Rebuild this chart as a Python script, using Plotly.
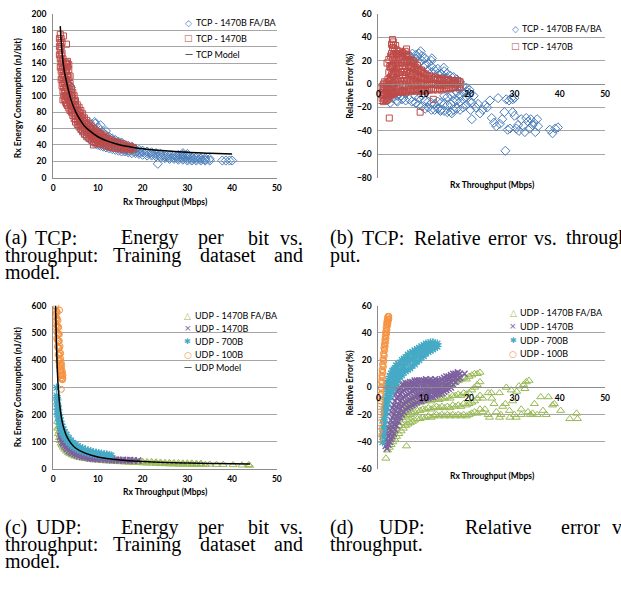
import plotly.graph_objects as go

W, H = 621, 590

# ---------------- data ----------------
# Column format: (x, [y values read at that x])
tcp_model_x = [1.6, 2.0, 2.5, 3.0, 3.5, 4.0, 5.0, 6.0, 7.0, 8.0, 10.0, 12.0, 15.0, 18.0, 20.0, 25.0, 30.0, 35.0, 40.0]
tcp_model_y = [185, 152, 130, 117, 105, 95, 81, 71, 63, 58, 50, 45, 40, 37, 35.5, 33, 31, 30, 29]

tcp_fa_energy = [(3.0,[105,118]),(3.4,[100,115]),(3.8,[95,112]),(4.0,[90,100,110]),(4.6,[78,86,95]),(5.2,[70,78,86]),
    (5.8,[64,72,80]),(6.4,[58,66,74]),(7.0,[54,61,68]),(7.6,[50,57,64]),(8.2,[47,53,60,67]),(8.8,[44,50,56,62]),
    (9.3,[68]),(9.4,[42,47,52,58,66]),(10.0,[40,45,50,55,62]),(10.6,[39,43,48,53,58,64]),(11.2,[38,42,46,50,55]),
    (11.8,[37,40,44,48,52,57]),(12.5,[36,39,43,47,50]),(13.2,[35,38,41,45,48]),(13.9,[34,37,40,43,46]),
    (14.6,[33,36,39,42,44]),(15.3,[32,35,38,41,43]),(16.0,[32,34,37,40]),(16.8,[31,33,36,39]),(17.6,[30,33,35,38]),
    (18.4,[30,32,35]),(19.2,[29,31,34]),(20.0,[28,31,33]),(21.0,[27,30,32]),(22.0,[27,29,31]),(23.0,[26,28,30]),
    (23.4,[17]),(24.0,[25,27,29]),(25.0,[24,26,28]),(26.0,[23,25,27]),(27.0,[23,25,27]),(28.0,[22,24,26,28]),
    (29.0,[22,24,26,28,30]),(30.0,[21,23,25,27,29]),(31.0,[21,23,25]),(32.0,[21,23,25]),(33.0,[21,23,24]),
    (34.0,[21,22,24]),(35.0,[21,23]),(37.8,[21]),(38.6,[21]),(39.4,[21]),(40.0,[21])]

tcp_b_energy = [(1.4,[150,160,170]),(1.6,[135,145,155,165,175]),(1.8,[120,130,140,150,160,170]),
    (2.0,[112,122,132,142,152,165]),(2.2,[95,105,115,125,135,145]),(2.3,[173]),(2.4,[100,110,120,130,140]),
    (2.6,[95,105,115,125,135]),(2.8,[92,100,110,120,130,140]),(3.0,[90,100,110,120,130,140,163]),
    (3.2,[88,97,106,115,125,135,142]),(3.5,[85,94,103,112,122,132,138]),(3.8,[82,90,98,106,115,124]),
    (4.1,[80,87,94,101,108]),(4.4,[76,83,90,97,104]),(4.7,[72,79,86,93,100]),(5.0,[68,75,82,88,94]),
    (5.4,[65,71,77,83,89]),(5.8,[62,68,74,80,86]),(6.2,[59,64,70,76,82]),(6.6,[56,61,66,72,78]),
    (7.0,[53,58,63,68,73]),(7.5,[50,55,60,65,70]),(8.0,[48,52,57,62,66]),(8.5,[46,50,54,59,63]),
    (9.0,[40,44,48,52,56,60]),(9.5,[43,47,51,55,58]),(10.0,[42,45,49,53,56]),(10.6,[41,44,47,51,54]),
    (11.2,[40,43,46,49,52]),(11.8,[39,42,45,48,50]),(12.4,[38,41,44,47]),(13.0,[37,40,43,46]),(13.7,[36,39,42,44]),
    (14.4,[36,38,41,43]),(15.1,[35,37,40,42]),(15.8,[35,37,39,41]),(16.5,[35,37,39]),(17.2,[34,36,38]),(17.9,[35,37])]

tcp_fa_err = [(2.0,[-14]),(2.3,[-10]),(2.6,[-16]),(2.8,[-6]),(3.2,[-12]),(3.5,[-8]),(4.0,[-14]),(4.2,[-10,-15]),
    (4.5,[-4]),(5.0,[-10]),(5.2,[-13,-6]),(5.5,[-12]),(6.0,[-14,-8,20]),(6.8,[-13,24]),(7.0,[24]),(7.4,[-15,18,22]),
    (7.5,[26]),(8.2,[-16,-10,22]),(8.3,[25]),(8.9,[-18,-12,18,26]),(9.3,[28]),(9.6,[-19,-10,20,24]),
    (10.3,[-21,-14,16,22]),(11.0,[-20,-15,12,18]),(11.7,[-22,-16,10,15,20]),(11.8,[22]),(12.4,[-22,-17,6,12]),
    (13.1,[-21,-15,5,9,13]),(13.7,[-23]),(13.8,[-22,-16,4,9]),(14.4,[14]),(14.5,[-23,-17,-10,6,11]),
    (15.2,[-24,-18,-11,5,9]),(15.9,[-24,-17,-9,3,7]),(16.2,[-25]),(16.6,[-22,-15,-8,2,6]),(17.3,[-21,-14,-7,0,4]),
    (18.0,[-22,-15,-10,-4,2]),(18.7,[-20,-13,-7,-2]),(19.4,[-18,-11,-6,-3]),(20.1,[-15,-8,-5]),(20.3,[-22]),
    (20.6,[-30,-16]),(21.0,[-10]),(21.5,[-20]),(22.0,[-17]),(22.4,[-25]),(23.0,[-22]),(23.5,[-18]),(24.0,[-20]),
    (24.6,[-14]),(25.0,[-29]),(25.5,[-33]),(26.0,[-36]),(26.4,[-12]),(26.8,[-34]),(27.3,[-30]),(27.8,[-24]),
    (28.0,[-57]),(28.2,[-13]),(28.5,[-39]),(28.8,[-14]),(29.0,[-38]),(29.3,[-12]),(29.6,[-13,-24]),(30.0,[-12,-27]),
    (30.4,[-38]),(30.8,[-35]),(31.0,[-40]),(31.5,[-30]),(32.0,[-36]),(32.3,[-41]),(32.6,[-29]),(33.0,[-32]),
    (33.3,[-38]),(33.6,[-30]),(34.0,[-35]),(34.3,[-33]),(34.6,[-41]),(35.0,[-30]),(35.2,[-36]),(37.8,[-39]),
    (38.4,[-42]),(39.0,[-38]),(39.6,[-37])]

tcp_b_err = [(0.5,[-14,-9,-4]),(0.8,[-12,-7,-2]),(1.1,[-15,-10,-5,0]),(1.4,[-13,-8,-3,2]),(1.7,[-14,-9,-4,1]),
    (1.9,[-12,-6,0,18]),(2.1,[-13,-8,-2,4]),(2.3,[-11,-5,2,10,21]),(2.4,[-29]),(2.5,[-10,-4,3,15]),
    (2.7,[-9,-2,6,14,24]),(2.9,[-8,0,8,16,26,34]),(3.1,[-9,-1,7,15,23,31,38]),(3.3,[-7,1,9,17,25,33,36]),
    (3.5,[-8,0,8,16,24,30]),(3.8,[-6,2,10,18,26,33]),(4.1,[-7,1,9,17,25,29]),(4.4,[-6,2,10,18,26]),
    (4.7,[-7,0,8,16,24,28]),(5.0,[-6,2,10,18,25]),(5.3,[-7,0,8,16,24,27]),(5.6,[-6,2,10,18,26]),
    (5.9,[-7,0,8,16,24,28]),(6.2,[-6,2,10,18,25,30]),(6.5,[-5,3,11,19,24]),(6.8,[-6,1,9,16,21]),
    (7.1,[-5,2,9,15,20]),(7.4,[-6,1,8,14,19]),(7.7,[-5,2,9,15,20]),(8.0,[-6,0,7,13,18]),(8.3,[-5,2,8,14]),
    (8.6,[-6,0,6,12,16]),(8.9,[-5,1,7,13]),(9.2,[-24,-6,0,6,11]),(9.5,[-5,1,6,12]),(9.8,[-6,0,5,10]),
    (10.1,[-5,0,5,9]),(10.5,[-6,-1,4,8]),(10.9,[-5,0,4,7]),(11.3,[-5,0,4,7]),(11.7,[-4,0,4,6]),
    (12.1,[-13,-5,0,4]),(12.5,[-4,0,4,6]),(13.0,[-5,-1,3,5]),(13.5,[-4,0,4]),(14.0,[-5,-1,3,5]),(14.5,[-4,0,4]),
    (15.0,[-4,-1,3]),(15.5,[-3,1,4]),(16.0,[-4,0,3]),(16.5,[-3,1,3]),(17.0,[-3,0,2]),(17.5,[-2,1,3]),(18.0,[-3,0,2])]

udp_model_x = [0.55, 0.7, 0.9, 1.1, 1.4, 1.8, 2.2, 3.0, 4.0, 5.0, 7.0, 10.0, 15.0, 20.0, 25.0, 30.0, 35.0, 40.0, 44.0]
udp_model_y = [600, 485, 380, 312, 248, 195, 162, 122, 95, 78, 60, 45, 34, 28.5, 25, 23, 21.5, 20.3, 19.5]

udp_fa_energy = [(1.0,[150,175]),(1.2,[130,155]),(1.4,[115,140]),(1.6,[105,125]),(1.8,[95,115]),(2.0,[88,105]),
    (2.3,[80,96]),(2.6,[73,88]),(3.0,[66,80]),(3.4,[60,73]),(3.8,[56,68]),(4.3,[52,63]),(4.8,[48,58]),(5.4,[45,54]),
    (6.0,[42,51]),(6.7,[40,48]),(7.4,[38,45]),(8.2,[36,43]),(9.0,[34,41]),(10.0,[33,39]),(11.0,[31,37]),
    (12.0,[30,36]),(13.0,[29,34]),(14.0,[28,33]),(15.0,[27,32]),(16.0,[26,31]),(17.0,[25,30]),(18.0,[24,29]),
    (19.0,[24,28]),(20.0,[23,28]),(21.0,[22,27]),(22.0,[22,27]),(23.0,[21,26]),(24.0,[20,25]),(25.0,[20,24]),
    (26.0,[19,24]),(27.0,[19,23]),(28.0,[18,23]),(29.0,[18,22]),(30.0,[18,22]),(31.0,[17,22]),(32.0,[17,21]),
    (33.0,[18,21]),(34.0,[17]),(35.0,[18]),(36.5,[17]),(38.0,[17]),(40.2,[16]),(42.2,[15]),(43.7,[16]),(43.9,[14])]

udp_1470_energy = [(1.6,[120,140]),(1.8,[110,132]),(2.0,[100,122]),(2.2,[94,114]),(2.5,[86,106]),(2.8,[80,98]),
    (3.1,[74,92]),(3.5,[68,86]),(3.9,[63,80]),(4.3,[59,74]),(4.8,[55,68]),(5.3,[52,63]),(5.8,[49,59]),(6.4,[46,55]),
    (7.0,[44,52]),(7.6,[42,49]),(8.2,[40,47]),(8.8,[39,45]),(9.4,[38,43]),(10.0,[37,42]),(10.8,[36,41]),
    (11.6,[35,39]),(12.4,[34,38]),(13.2,[33,37]),(14.0,[33,36]),(14.8,[32,35]),(15.6,[32,35]),(16.4,[32,34]),
    (17.2,[32,34]),(18.0,[31,33]),(19.0,[31,32])]

udp_700_energy = [(0.75,[270,299]),(0.85,[240,262]),(0.95,[220,254]),(1.05,[205,232]),(1.15,[192,218]),
    (1.3,[178,200]),(1.45,[165,188]),(1.6,[155,176]),(1.8,[145,165]),(2.0,[135,155]),(2.3,[125,145]),
    (2.6,[118,136]),(3.0,[108,126]),(3.5,[98,114]),(4.0,[90,105]),(4.5,[83,97]),(5.0,[78,91]),(5.5,[73,85]),
    (6.0,[70,80]),(6.6,[66,76]),(7.2,[63,72]),(7.8,[60,69]),(8.4,[58,66]),(9.0,[56,63]),(9.6,[54,61]),
    (10.2,[52,59]),(10.8,[51,57]),(11.4,[50,55]),(12.0,[49,54]),(12.6,[48,52]),(13.0,[50])]

udp_100_energy = [(0.5,[560,580,600]),(0.65,[520,545,570,595]),(0.8,[480,505,530,555,580]),
    (0.95,[450,475,500,525,550,575]),(1.1,[420,445,470,495,520,545]),(1.25,[395,420,445,470,495,520]),
    (1.4,[375,398,420,445,470,495]),(1.45,[583]),(1.55,[360,380,400,425,450]),(1.7,[345,365,385,405,425]),
    (1.83,[293,335,352,370,390]),(1.95,[330,345,362,380]),(2.1,[328,342,358]),(2.2,[332,345])]

udp_fa_err = [(1.66,[-52]),(2.0,[-46,-40]),(2.4,[-44,-38,-33]),(2.8,[-42,-36,-30]),(3.2,[-40,-34,-28]),
    (3.6,[-38,-32,-26]),(4.0,[-36,-30,-24,-19]),(4.5,[-34,-28,-22,-17]),(5.0,[-32,-26,-20,-15]),
    (5.5,[-30,-24,-18,-13]),(6.0,[-28,-22,-17,-12,3]),(6.2,[-43]),(6.5,[-27,-21,-15,-10]),(7.0,[-26,-20,-14,-9]),
    (7.5,[-25,-19,-13,-8]),(8.0,[-24,-18,-12,-7]),(8.6,[-23,-17,-11,-6]),(9.2,[-23,-17,-11,-5]),
    (9.8,[-22,-16,-10,-4]),(10.4,[-22,-16,-10,-3]),(11.0,[-21,-15,-9,-2,5]),(11.6,[-22,-16,-10,-3]),
    (12.2,[-21,-15,-9,-2]),(12.8,[-20,-14,-8,-1]),(13.4,[-21,-15,-9,-2]),(14.0,[-20,-14,-8,0]),
    (14.6,[-21,-15,-8,1]),(15.2,[-20,-14,-7,2]),(15.8,[-21,-15,-8,2]),(16.4,[-20,-13,-6,3]),(17.0,[-21,-14,-6,4]),
    (17.6,[-20,-13,-5,5]),(18.2,[-21,-14,-6,6]),(18.8,[-20,-12,-4,7]),(19.4,[-21,-13,-5,6]),(20.0,[-20,-12,-4,8]),
    (20.6,[-19,-11,-2,9]),(21.2,[-18,-10,0,10]),(21.8,[-19,-8,2,10]),(22.4,[-16,-6,4,11]),(23.0,[-18,-8]),
    (23.5,[-16]),(24.2,[-20,-4]),(24.5,[-22]),(24.9,[-4]),(25.0,[-8]),(25.5,[-12]),(26.0,[-18]),(26.7,[-22,-4]),
    (27.0,[-20]),(27.4,[-14]),(28.0,[-12]),(28.2,[0]),(28.9,[-17]),(29.0,[-22]),(29.3,[-2]),(29.6,[-10]),
    (30.0,[-20]),(30.4,[-22]),(30.5,[-3]),(31.0,[1]),(31.5,[-20,-16]),(32.0,[2]),(32.3,[-1]),(32.6,[4]),
    (33.0,[-18]),(33.2,[5]),(33.5,[-20]),(34.0,[-19]),(34.4,[-12]),(35.0,[-20]),(35.8,[-7]),(36.3,[-17]),
    (37.0,[-20]),(37.5,[-7]),(38.4,[-13]),(38.8,[-12]),(40.2,[-17]),(42.2,[-23]),(43.7,[-19]),(43.9,[-23])]

udp_1470_err = [(1.6,[-43,-38]),(1.9,[-45,-40,-34]),(2.2,[-42,-36,-30]),(2.5,[-40,-34,-27]),(2.8,[-38,-31,-24,-18]),
    (3.1,[-36,-29,-22,-15]),(3.4,[-34,-27,-20,-13]),(3.7,[-31,-24,-17,-10,-5]),(4.0,[-28,-21,-14,-8,-3]),
    (4.4,[-25,-19,-13,-7,-2]),(4.8,[-22,-16,-10,-5,0]),(5.2,[-20,-14,-8,-3,2]),(5.6,[-18,-12,-7,-2,2]),
    (6.0,[-16,-11,-6,-1,3]),(6.5,[-15,-10,-5,0,3]),(7.0,[-14,-9,-4,0,4]),(7.5,[-13,-8,-3,1,4]),
    (8.0,[-12,-7,-2,2,5]),(8.5,[-11,-6,-2,2,5]),(9.0,[-10,-6,-1,3,5]),(9.5,[-10,-5,-1,3,5]),(10.0,[-9,-5,0,3,5]),
    (10.5,[-8,-4,0,4,6]),(11.0,[-8,-4,0,4,5]),(11.5,[-7,-3,1,4,6]),(12.0,[-7,-3,1,4]),(12.5,[-6,-2,1,4,6]),
    (13.0,[-5,-2,2,5]),(13.5,[-5,-1,2,5]),(14.0,[-4,0,3,6]),(14.5,[-3,1,4,7]),(15.0,[-2,2,5,8]),(15.5,[-1,3,6,8]),
    (16.0,[0,4,7,9]),(16.5,[2,5,8,10]),(17.0,[4,7,10]),(17.5,[6,9,11]),(18.0,[7,10]),(19.0,[10])]

udp_700_err = [(0.9,[-40,-36]),(1.0,[-35,-30]),(1.1,[-32,-26]),(1.2,[-28,-22]),(1.3,[-25,-18]),(1.4,[-22,-15]),
    (1.5,[-19,-12]),(1.6,[-17,-9]),(1.8,[-14,-6,0]),(2.0,[-11,-3,3]),(2.2,[-9,-1,5]),(2.5,[-7,1,8]),(2.8,[-4,3,10]),
    (3.1,[-2,5,12]),(3.4,[0,7,13]),(3.7,[2,9,14]),(3.9,[16]),(4.0,[4,10,16]),(4.4,[6,12,17]),(4.8,[8,13,18]),
    (5.2,[9,14,20]),(5.6,[11,16,21]),(6.0,[12,17,22]),(6.5,[13,19,24]),(7.0,[14,20,25]),(7.5,[16,21,26]),
    (8.0,[17,23,27]),(8.5,[19,24,28]),(9.0,[20,25,29]),(9.5,[22,27,30]),(10.0,[23,28,31]),(10.5,[25,29,32]),
    (11.0,[26,30,32]),(11.5,[27,31,33]),(12.0,[28,31,33]),(12.5,[29,32]),(13.0,[30,32])]

udp_100_err = [(0.1,[-38,-33]),(0.2,[-32,-26]),(0.3,[-26,-20,-14]),(0.4,[-18,-12,-6]),(0.5,[-10,-5,0]),
    (0.6,[-5,0,5]),(0.7,[-1,4,9]),(0.8,[3,8,13]),(0.9,[7,12,17]),(1.0,[11,16,21]),(1.1,[15,20,25]),(1.2,[19,24,29]),
    (1.3,[23,28,32]),(1.4,[27,31,35]),(1.5,[30,34,38]),(1.6,[33,37,41]),(1.7,[36,40,44]),(1.8,[39,43,47]),
    (1.9,[42,46,49]),(2.0,[45,48,51]),(2.1,[47,50,52]),(2.2,[49,52]),(2.3,[50,52])]

# ---------------- styles ----------------
BLUE, RED, GREEN, PURPLE, TEAL, ORANGE = '#4a7ebb', '#be4b48', '#98b954', '#7d60a0', '#46aac5', '#f69240'
GRID, AXLINE = '#a6a6a6', '#8c8c8c'
SANS = 'Lato'
SERIF = 'Liberation Serif'


def expand(cols):
    xs, ys = [], []
    for x, yl in cols:
        for y in yl:
            xs.append(x)
            ys.append(y)
    return xs, ys


def px(x):
    return x / W


def py(y):
    return 1 - y / H


fig = go.Figure()


def scatter(cols, name, symbol, color, size, xa, ya, lw=1):
    xs, ys = expand(cols)
    fig.add_trace(go.Scatter(x=xs, y=ys, mode='markers', name=name, xaxis=xa, yaxis=ya, showlegend=False,
                             marker=dict(symbol=symbol, size=size, color=color, line=dict(color=color, width=lw))))


def model(mx, my, name, xa, ya):
    fig.add_trace(go.Scatter(x=mx, y=my, mode='lines', name=name, xaxis=xa, yaxis=ya, showlegend=False,
                             line=dict(color='black', width=1.5, shape='spline')))


# (a)
scatter(tcp_fa_energy, 'TCP - 1470B FA/BA', 'diamond-open', BLUE, 7, 'x', 'y')
scatter(tcp_b_energy, 'TCP - 1470B', 'square-open', RED, 6, 'x', 'y')
model(tcp_model_x, tcp_model_y, 'TCP Model', 'x', 'y')
# (b)
scatter(tcp_fa_err, 'TCP - 1470B FA/BA', 'diamond-open', BLUE, 7, 'x2', 'y2')
scatter(tcp_b_err, 'TCP - 1470B', 'square-open', RED, 6, 'x2', 'y2')
# (c)
scatter(udp_fa_energy, 'UDP - 1470B FA/BA', 'triangle-up-open', GREEN, 7, 'x3', 'y3')
scatter(udp_1470_energy, 'UDP - 1470B', 'x-thin-open', PURPLE, 6, 'x3', 'y3', 1.5)
scatter(udp_700_energy, 'UDP - 700B', 'asterisk-open', TEAL, 7, 'x3', 'y3', 1.3)
scatter(udp_100_energy, 'UDP - 100B', 'circle-open', ORANGE, 6, 'x3', 'y3')
model(udp_model_x, udp_model_y, 'UDP Model', 'x3', 'y3')
# (d)
scatter(udp_fa_err, 'UDP - 1470B FA/BA', 'triangle-up-open', GREEN, 7, 'x4', 'y4')
scatter(udp_1470_err, 'UDP - 1470B', 'x-thin-open', PURPLE, 6, 'x4', 'y4', 1.5)
scatter(udp_700_err, 'UDP - 700B', 'asterisk-open', TEAL, 7, 'x4', 'y4', 1.3)
scatter(udp_100_err, 'UDP - 100B', 'circle-open', ORANGE, 6, 'x4', 'y4')

tickfont = dict(family=SANS, size=8.5, color='black', weight='bold')

LEFT_DOM = [px(51.7), px(278)]
RIGHT_DOM = [px(380.7), px(610)]
TOP_DOM = [py(175.7), py(9)]
BOT_DOM = [py(472.3), py(305.7)]


def xaxis_cfg(domain, anchor, position=None):
    d = dict(domain=domain, range=[0, 50], dtick=10, tick0=0, showgrid=False, zeroline=False,
             showline=True, linecolor=AXLINE, linewidth=1, ticks='', tickfont=tickfont,
             ticklabelstandoff=2, fixedrange=True)
    if position is None:
        d['anchor'] = anchor
    else:
        d['anchor'] = 'free'
        d['position'] = position
    return d


def yaxis_cfg(domain, anchor, rng, dtick):
    return dict(domain=domain, anchor=anchor, range=rng, dtick=dtick, tick0=rng[0], showgrid=True,
                gridcolor=GRID, gridwidth=1, zeroline=False, showline=True, linecolor=AXLINE, linewidth=1,
                ticks='', tickfont=tickfont, ticklabelstandoff=4, fixedrange=True)


pos_b = TOP_DOM[0] + (80 / 140) * (TOP_DOM[1] - TOP_DOM[0])
pos_d = BOT_DOM[0] + 0.5 * (BOT_DOM[1] - BOT_DOM[0])

fig.update_layout(
    width=W, height=H, margin=dict(l=0, r=0, t=0, b=0),
    paper_bgcolor='white', plot_bgcolor='white', showlegend=False,
    xaxis=xaxis_cfg(LEFT_DOM, 'y'),
    yaxis=yaxis_cfg(TOP_DOM, 'x', [0, 200], 20),
    xaxis2=xaxis_cfg(RIGHT_DOM, 'y2', pos_b),
    yaxis2=yaxis_cfg(TOP_DOM, 'x2', [-80, 60], 20),
    xaxis3=xaxis_cfg(LEFT_DOM, 'y3'),
    yaxis3=yaxis_cfg(BOT_DOM, 'x3', [0, 600], 100),
    xaxis4=xaxis_cfg(RIGHT_DOM, 'y4', pos_d),
    yaxis4=yaxis_cfg(BOT_DOM, 'x4', [-60, 60], 20),
)


def ann(text, x, y, size, family=SANS, color='black', xanchor='left', yanchor='middle', angle=0, weight='normal'):
    fig.add_annotation(text=text, x=px(x), y=py(y), xref='paper', yref='paper', showarrow=False,
                       xanchor=xanchor, yanchor=yanchor, textangle=angle, borderpad=0,
                       font=dict(family=family, size=size, color=color, weight=weight))


# axis titles
ann('Rx Energy Consumption (nJ/bit)', 17, 94, 8.5, angle=-90, xanchor='center', weight='bold')
ann('Rx Throughput (Mbps)', 165, 200, 8.5, xanchor='center', weight='bold')
ann('Relative Error (%)', 352, 82, 8.5, angle=-90, xanchor='center', weight='bold')
ann('Rx Throughput (Mbps)', 496, 183, 8.5, xanchor='center', weight='bold')
ann('Rx Energy Consumption (nJ/bit)', 17, 388, 8.5, angle=-90, xanchor='center', weight='bold')
ann('Rx Throughput (Mbps)', 165, 495, 8.5, xanchor='center', weight='bold')
ann('Relative Error (%)', 352, 384, 8.5, angle=-90, xanchor='center', weight='bold')
ann('Rx Throughput (Mbps)', 496, 479, 8.5, xanchor='center', weight='bold')

# legends (symbol glyph + label)
LEG_FS = 9
SYM = 'DejaVu Sans'


def legend_row(sym, color, label, sx, tx, y, sym_size=9):
    ann(sym, sx, y, sym_size, family=SYM, color=color, xanchor='center')
    ann(label, tx, y, LEG_FS)


legend_row('◇', BLUE, 'TCP - 1470B FA/BA', 189, 195, 18)
legend_row('□', RED, 'TCP - 1470B', 189, 195, 34)
legend_row('—', 'black', 'TCP Model', 189, 195, 50, 8)
legend_row('◇', BLUE, 'TCP - 1470B FA/BA', 519, 525, 24)
legend_row('□', RED, 'TCP - 1470B', 519, 525, 42)
legend_row('△', GREEN, 'UDP - 1470B FA/BA', 188, 194, 316)
legend_row('×', PURPLE, 'UDP - 1470B', 188, 194, 329)
legend_row('✱', TEAL, 'UDP - 700B', 188, 194, 342, 8)
legend_row('○', ORANGE, 'UDP - 100B', 188, 194, 356)
legend_row('—', 'black', 'UDP Model', 188, 194, 369, 8)
legend_row('△', GREEN, 'UDP - 1470B FA/BA', 517, 523, 313)
legend_row('×', PURPLE, 'UDP - 1470B', 517, 523, 327)
legend_row('✱', TEAL, 'UDP - 700B', 517, 523, 341, 8)
legend_row('○', ORANGE, 'UDP - 100B', 517, 523, 355)

# captions (justified words)
CAP = 20


def cap_line(words, y):
    for w, x, anc in words:
        ann(w, x, y, CAP, family=SERIF, xanchor=anc)


cap_line([('(a)', 2, 'left'), ('TCP:', 32, 'left'), ('Energy', 119, 'left'), ('per', 197, 'left'),
          ('bit', 248, 'left'), ('vs.', 305, 'right')], 237)
cap_line([('throughput:', 2, 'left'), ('Training', 111, 'left'), ('dataset', 199, 'left'),
          ('and', 305, 'right')], 254.5)
cap_line([('model.', 2, 'left')], 272)
cap_line([('(b)', 331, 'left'), ('TCP:', 363, 'left'), ('Relative', 416, 'left'), ('error', 491, 'left'),
          ('vs.', 537, 'left'), ('through-', 569, 'left')], 237)
cap_line([('put.', 331, 'left')], 254.5)
cap_line([('(c)', 2, 'left'), ('UDP:', 33, 'left'), ('Energy', 119, 'left'), ('per', 197, 'left'),
          ('bit', 248, 'left'), ('vs.', 305, 'right')], 531)
cap_line([('throughput:', 2, 'left'), ('Training', 111, 'left'), ('dataset', 199, 'left'),
          ('and', 305, 'right')], 548.5)
cap_line([('model.', 2, 'left')], 566)
cap_line([('(d)', 331, 'left'), ('UDP:', 380, 'left'), ('Relative', 467, 'left'), ('error', 564, 'left'),
          ('vs.', 616, 'left')], 531)
cap_line([('throughput.', 331, 'left')], 548.5)

fig.write_html('out.html', config={'displayModeBar': False},
               post_script="document.body.style.margin='0';")
